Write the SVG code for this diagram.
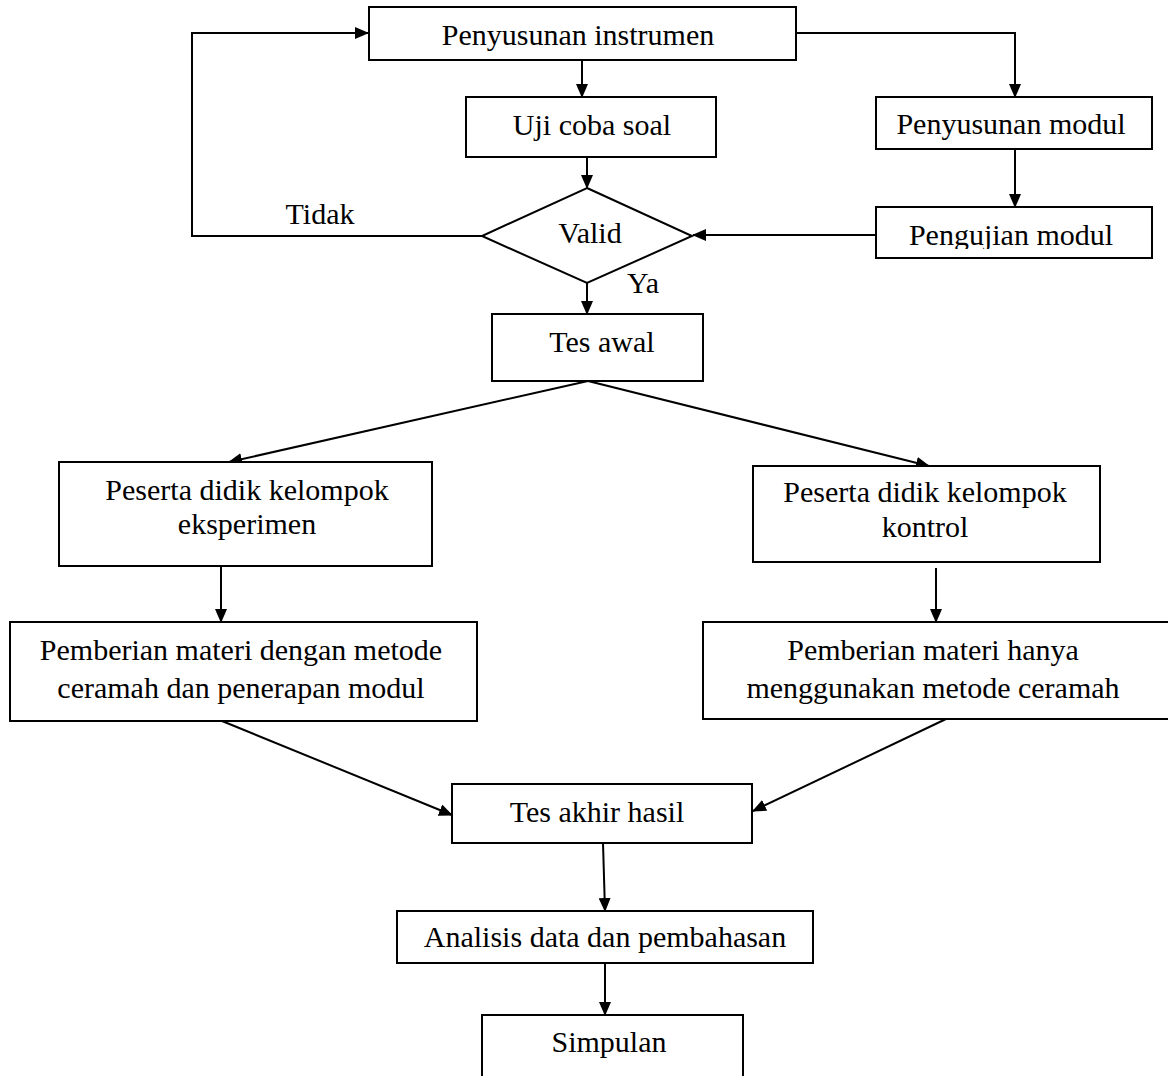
<svg xmlns="http://www.w3.org/2000/svg" width="1168" height="1076" viewBox="0 0 1168 1076">
<style>
.box{fill:#fff;stroke:#000;stroke-width:2}
.ln{fill:none;stroke:#000;stroke-width:2}
text{font-family:"Liberation Serif","Times New Roman",serif;font-size:30px;fill:#000;text-anchor:middle}
</style>
<defs>
<marker id="ah" markerUnits="userSpaceOnUse" markerWidth="14" markerHeight="12" refX="13" refY="6" orient="auto">
<path d="M0,0 L14,6 L0,12 z" fill="#000"/>
</marker>
<clipPath id="clipPM"><rect x="876" y="207" width="277" height="42"/></clipPath>
</defs>
<rect width="1168" height="1076" fill="#fff"/>
<g id="connectors">
<polyline class="ln" points="482,236 192,236 192,33 368,33" marker-end="url(#ah)"/>
<line class="ln" x1="582" y1="60" x2="582" y2="97" marker-end="url(#ah)"/>
<polyline class="ln" points="796,33 1015,33 1015,97" marker-end="url(#ah)"/>
<line class="ln" x1="1015" y1="149" x2="1015" y2="207" marker-end="url(#ah)"/>
<line class="ln" x1="876" y1="235" x2="693" y2="235" marker-end="url(#ah)"/>
<line class="ln" x1="587" y1="157" x2="587" y2="188" marker-end="url(#ah)"/>
<line class="ln" x1="587" y1="283" x2="587" y2="314" marker-end="url(#ah)"/>
<line class="ln" x1="588" y1="381" x2="229" y2="462" marker-end="url(#ah)"/>
<line class="ln" x1="588" y1="381" x2="929" y2="466" marker-end="url(#ah)"/>
<line class="ln" x1="221" y1="566" x2="221" y2="622" marker-end="url(#ah)"/>
<line class="ln" x1="936" y1="568" x2="936" y2="622" marker-end="url(#ah)"/>
<line class="ln" x1="222" y1="721" x2="452" y2="815" marker-end="url(#ah)"/>
<line class="ln" x1="946" y1="719" x2="753" y2="811" marker-end="url(#ah)"/>
<line class="ln" x1="603" y1="843" x2="605" y2="911" marker-end="url(#ah)"/>
<line class="ln" x1="605" y1="963" x2="605" y2="1015" marker-end="url(#ah)"/>
</g>
<g id="n-instrumen"><rect class="box" x="369" y="7" width="427" height="53"/><text x="578" y="45">Penyusunan instrumen</text></g>
<g id="n-uji"><rect class="box" x="466" y="97" width="250" height="60"/><text x="592" y="135">Uji coba soal</text></g>
<g id="n-modul"><rect class="box" x="876" y="97" width="276" height="52"/><text x="1011" y="134">Penyusunan modul</text></g>
<g id="n-pengujian"><rect class="box" x="876" y="207" width="276" height="51"/><text x="1011" y="245" clip-path="url(#clipPM)">Pengujian modul</text></g>
<g id="n-valid"><polygon class="box" points="587,188 692,236 587,283 482,236"/><text x="590" y="243">Valid</text></g>
<g id="l-tidak"><text x="320" y="224">Tidak</text></g>
<g id="l-ya"><text x="643" y="293">Ya</text></g>
<g id="n-tesawal"><rect class="box" x="492" y="314" width="211" height="67"/><text x="602" y="352">Tes awal</text></g>
<g id="n-eksperimen"><rect class="box" x="59" y="462" width="373" height="104"/><text x="247" y="500">Peserta didik kelompok</text><text x="247" y="534">eksperimen</text></g>
<g id="n-kontrol"><rect class="box" x="753" y="466" width="347" height="96"/><text x="925" y="502">Peserta didik kelompok</text><text x="925" y="537">kontrol</text></g>
<g id="n-materi1"><rect class="box" x="10" y="622" width="467" height="99"/><text x="241" y="660">Pemberian materi dengan metode</text><text x="241" y="698">ceramah dan penerapan modul</text></g>
<g id="n-materi2"><rect class="box" x="703" y="622" width="470" height="97"/><text x="933" y="660">Pemberian materi hanya</text><text x="933" y="698">menggunakan metode ceramah</text></g>
<g id="n-tesakhir"><rect class="box" x="452" y="784" width="300" height="59"/><text x="597" y="822">Tes akhir hasil</text></g>
<g id="n-analisis"><rect class="box" x="397" y="911" width="416" height="52"/><text x="605" y="947">Analisis data dan pembahasan</text></g>
<g id="n-simpulan"><rect class="box" x="482" y="1015" width="261" height="80"/><text x="609" y="1052">Simpulan</text></g>
</svg>
